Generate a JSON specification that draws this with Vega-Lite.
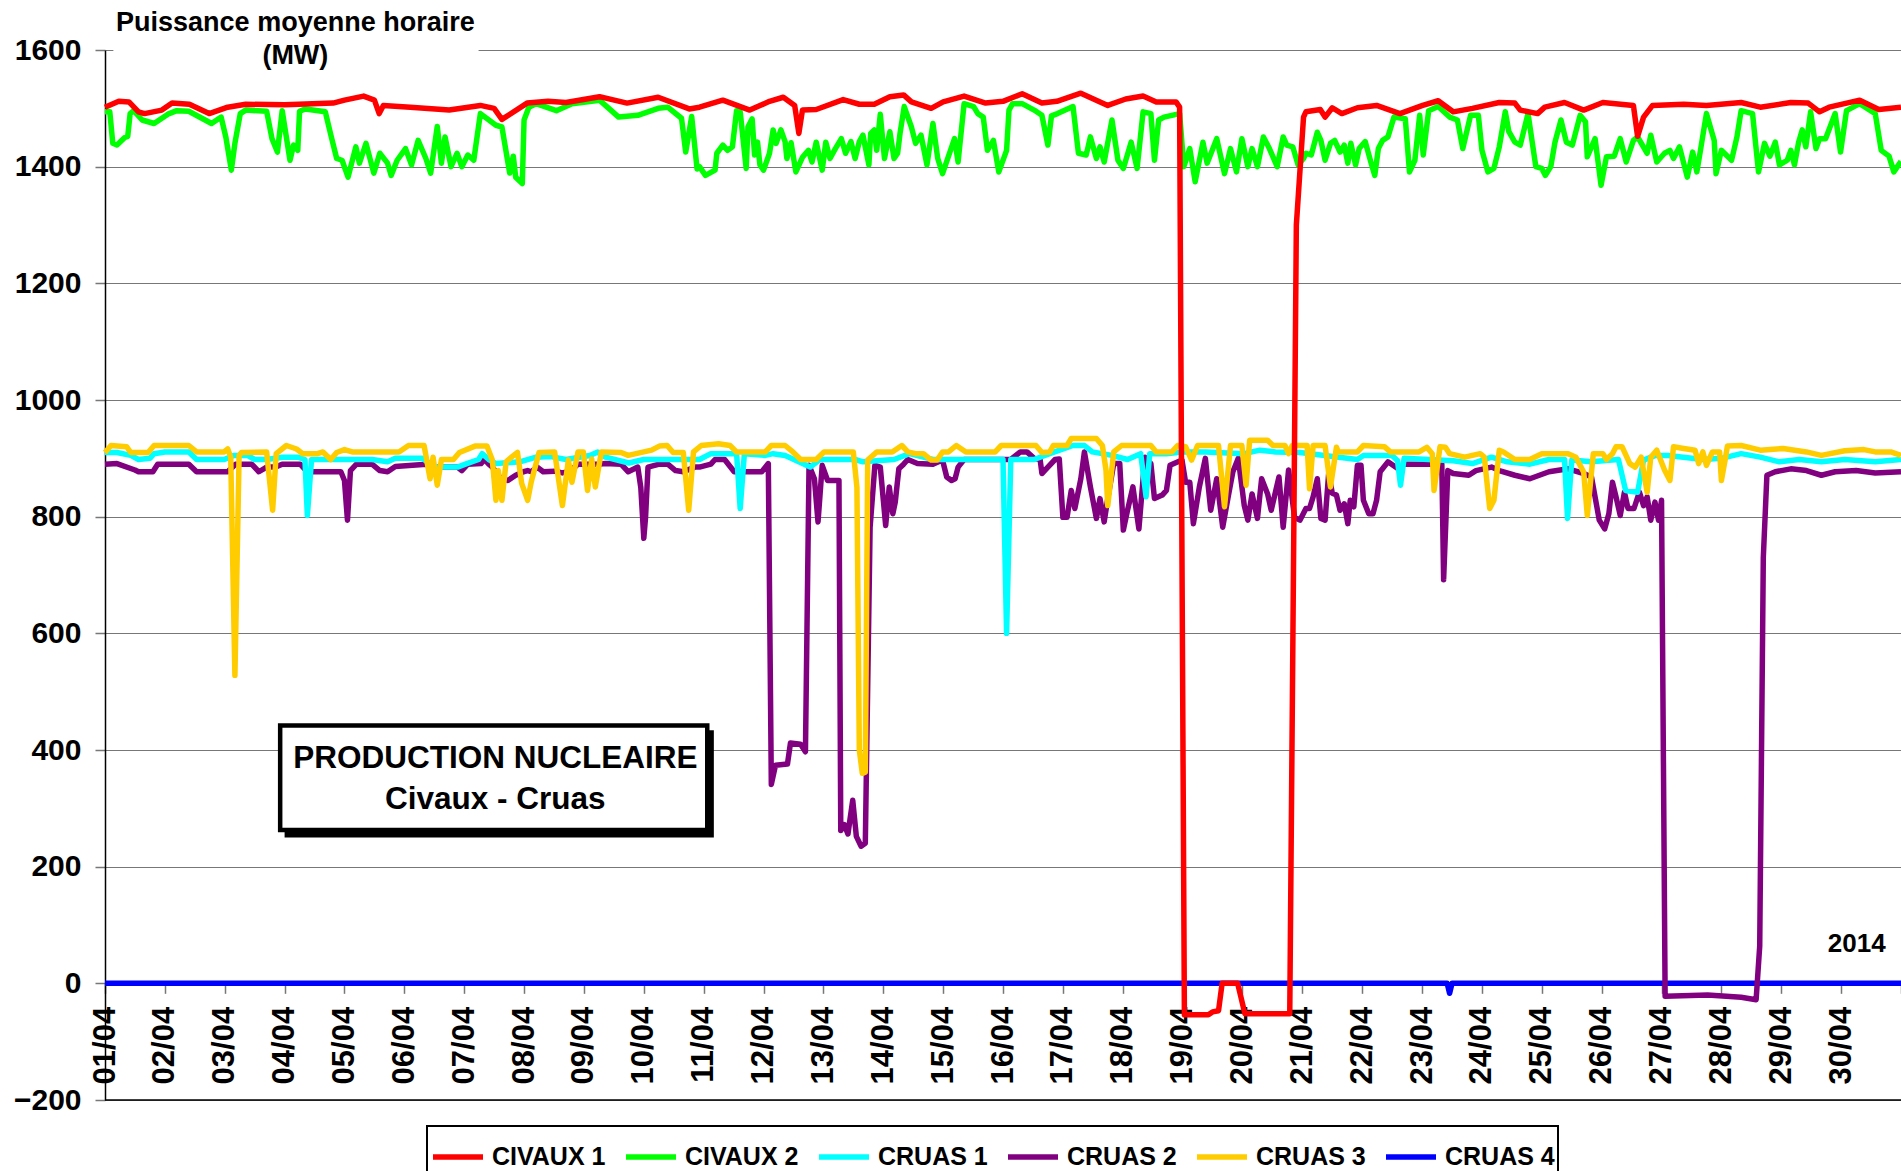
{
  "$schema": "https://vega.github.io/schema/vega-lite/v6.json",
  "width": 1796,
  "height": 1050,
  "autosize": {"type": "none"},
  "padding": {"left": 105, "top": 50, "right": 0, "bottom": 71},
  "background": "white",
  "config": {"view": {"stroke": null}, "font": "Liberation Sans"},
  "datasets": {
    "civaux1": [
      {"jour":0,"mw":1502},{"jour":0.23,"mw":1512},{"jour":0.4,"mw":1511},{"jour":0.56,"mw":1494},{"jour":0.66,"mw":1491},{"jour":0.95,"mw":1497},{"jour":1.12,"mw":1509},{"jour":1.41,"mw":1507},{"jour":1.74,"mw":1491},{"jour":2.05,"mw":1502},{"jour":2.35,"mw":1507},{"jour":3.0,"mw":1506},{"jour":3.81,"mw":1509},{"jour":4.0,"mw":1514},{"jour":4.32,"mw":1521},{"jour":4.5,"mw":1514},{"jour":4.58,"mw":1491},{"jour":4.65,"mw":1505},{"jour":5.1,"mw":1502},{"jour":5.75,"mw":1497},{"jour":6.27,"mw":1505},{"jour":6.5,"mw":1500},{"jour":6.63,"mw":1481},{"jour":7.05,"mw":1509},{"jour":7.4,"mw":1512},{"jour":7.7,"mw":1510},{"jour":8.26,"mw":1520},{"jour":8.72,"mw":1509},{"jour":9.24,"mw":1519},{"jour":9.76,"mw":1499},{"jour":9.93,"mw":1502},{"jour":10.32,"mw":1514},{"jour":10.77,"mw":1497},{"jour":11.1,"mw":1512},{"jour":11.33,"mw":1519},{"jour":11.52,"mw":1505},{"jour":11.59,"mw":1457},{"jour":11.65,"mw":1497},{"jour":11.88,"mw":1498},{"jour":12.33,"mw":1515},{"jour":12.6,"mw":1507},{"jour":12.85,"mw":1507},{"jour":13.11,"mw":1520},{"jour":13.34,"mw":1523},{"jour":13.47,"mw":1511},{"jour":13.8,"mw":1500},{"jour":14.0,"mw":1511},{"jour":14.35,"mw":1521},{"jour":14.71,"mw":1509},{"jour":15.0,"mw":1512},{"jour":15.32,"mw":1525},{"jour":15.65,"mw":1509},{"jour":15.9,"mw":1512},{"jour":16.3,"mw":1526},{"jour":16.75,"mw":1505},{"jour":17.05,"mw":1516},{"jour":17.34,"mw":1521},{"jour":17.56,"mw":1511},{"jour":17.89,"mw":1511},{"jour":17.95,"mw":1502},{"jour":18.03,"mw":-54},{"jour":18.43,"mw":-54},{"jour":18.5,"mw":-49},{"jour":18.6,"mw":-47},{"jour":18.66,"mw":0},{"jour":18.92,"mw":0},{"jour":19.04,"mw":-52},{"jour":19.79,"mw":-52},{"jour":19.9,"mw":1300},{"jour":20.02,"mw":1485},{"jour":20.06,"mw":1494},{"jour":20.3,"mw":1498},{"jour":20.38,"mw":1485},{"jour":20.5,"mw":1501},{"jour":20.66,"mw":1491},{"jour":20.92,"mw":1501},{"jour":21.24,"mw":1505},{"jour":21.63,"mw":1491},{"jour":22.01,"mw":1505},{"jour":22.27,"mw":1513},{"jour":22.52,"mw":1494},{"jour":22.84,"mw":1500},{"jour":23.29,"mw":1510},{"jour":23.55,"mw":1509},{"jour":23.64,"mw":1497},{"jour":23.93,"mw":1491},{"jour":24.05,"mw":1502},{"jour":24.38,"mw":1510},{"jour":24.7,"mw":1497},{"jour":25.02,"mw":1510},{"jour":25.53,"mw":1505},{"jour":25.6,"mw":1452},{"jour":25.7,"mw":1485},{"jour":25.85,"mw":1505},{"jour":26.37,"mw":1507},{"jour":26.75,"mw":1505},{"jour":27.33,"mw":1510},{"jour":27.65,"mw":1502},{"jour":28.16,"mw":1510},{"jour":28.45,"mw":1509},{"jour":28.64,"mw":1494},{"jour":28.8,"mw":1502},{"jour":29.31,"mw":1514},{"jour":29.63,"mw":1498},{"jour":30,"mw":1502}
    ],
    "civaux2": [
      {"jour":0,"mw":1494},{"jour":0.08,"mw":1494},{"jour":0.13,"mw":1440},{"jour":0.2,"mw":1437},{"jour":0.33,"mw":1450},{"jour":0.38,"mw":1452},{"jour":0.42,"mw":1491},{"jour":0.48,"mw":1496},{"jour":0.62,"mw":1480},{"jour":0.82,"mw":1474},{"jour":1.05,"mw":1490},{"jour":1.2,"mw":1496},{"jour":1.4,"mw":1495},{"jour":1.78,"mw":1474},{"jour":1.94,"mw":1485},{"jour":2.02,"mw":1450},{"jour":2.11,"mw":1394},{"jour":2.17,"mw":1440},{"jour":2.26,"mw":1491},{"jour":2.35,"mw":1497},{"jour":2.7,"mw":1495},{"jour":2.79,"mw":1448},{"jour":2.88,"mw":1425},{"jour":2.96,"mw":1496},{"jour":3.09,"mw":1411},{"jour":3.15,"mw":1437},{"jour":3.22,"mw":1428},{"jour":3.25,"mw":1495},{"jour":3.35,"mw":1499},{"jour":3.68,"mw":1494},{"jour":3.78,"mw":1451},{"jour":3.87,"mw":1414},{"jour":3.96,"mw":1411},{"jour":4.06,"mw":1382},{"jour":4.19,"mw":1434},{"jour":4.25,"mw":1406},{"jour":4.36,"mw":1440},{"jour":4.49,"mw":1389},{"jour":4.59,"mw":1423},{"jour":4.72,"mw":1406},{"jour":4.78,"mw":1385},{"jour":4.88,"mw":1411},{"jour":5.02,"mw":1431},{"jour":5.12,"mw":1403},{"jour":5.23,"mw":1445},{"jour":5.36,"mw":1414},{"jour":5.44,"mw":1389},{"jour":5.55,"mw":1469},{"jour":5.62,"mw":1406},{"jour":5.68,"mw":1451},{"jour":5.78,"mw":1400},{"jour":5.88,"mw":1423},{"jour":5.96,"mw":1400},{"jour":6.06,"mw":1420},{"jour":6.16,"mw":1411},{"jour":6.27,"mw":1491},{"jour":6.53,"mw":1471},{"jour":6.63,"mw":1468},{"jour":6.76,"mw":1389},{"jour":6.82,"mw":1418},{"jour":6.86,"mw":1382},{"jour":6.97,"mw":1371},{"jour":7.0,"mw":1480},{"jour":7.08,"mw":1502},{"jour":7.2,"mw":1508},{"jour":7.54,"mw":1496},{"jour":7.8,"mw":1508},{"jour":8.26,"mw":1514},{"jour":8.58,"mw":1485},{"jour":8.9,"mw":1488},{"jour":9.24,"mw":1500},{"jour":9.4,"mw":1502},{"jour":9.63,"mw":1483},{"jour":9.7,"mw":1425},{"jour":9.8,"mw":1486},{"jour":9.89,"mw":1396},{"jour":9.93,"mw":1400},{"jour":10.03,"mw":1385},{"jour":10.19,"mw":1394},{"jour":10.22,"mw":1423},{"jour":10.32,"mw":1437},{"jour":10.4,"mw":1428},{"jour":10.48,"mw":1434},{"jour":10.55,"mw":1496},{"jour":10.61,"mw":1494},{"jour":10.71,"mw":1397},{"jour":10.74,"mw":1468},{"jour":10.81,"mw":1482},{"jour":10.85,"mw":1420},{"jour":10.9,"mw":1442},{"jour":10.94,"mw":1403},{"jour":11.0,"mw":1394},{"jour":11.1,"mw":1423},{"jour":11.16,"mw":1463},{"jour":11.21,"mw":1440},{"jour":11.29,"mw":1463},{"jour":11.36,"mw":1443},{"jour":11.39,"mw":1414},{"jour":11.46,"mw":1441},{"jour":11.54,"mw":1391},{"jour":11.65,"mw":1416},{"jour":11.75,"mw":1428},{"jour":11.81,"mw":1408},{"jour":11.88,"mw":1442},{"jour":11.98,"mw":1394},{"jour":12.04,"mw":1442},{"jour":12.11,"mw":1414},{"jour":12.2,"mw":1431},{"jour":12.3,"mw":1448},{"jour":12.37,"mw":1423},{"jour":12.46,"mw":1443},{"jour":12.53,"mw":1414},{"jour":12.6,"mw":1443},{"jour":12.66,"mw":1454},{"jour":12.76,"mw":1403},{"jour":12.79,"mw":1457},{"jour":12.85,"mw":1463},{"jour":12.89,"mw":1428},{"jour":12.95,"mw":1490},{"jour":13.02,"mw":1414},{"jour":13.11,"mw":1460},{"jour":13.18,"mw":1414},{"jour":13.24,"mw":1423},{"jour":13.28,"mw":1457},{"jour":13.35,"mw":1503},{"jour":13.47,"mw":1468},{"jour":13.54,"mw":1440},{"jour":13.63,"mw":1454},{"jour":13.73,"mw":1403},{"jour":13.83,"mw":1474},{"jour":13.91,"mw":1414},{"jour":13.99,"mw":1388},{"jour":14.19,"mw":1448},{"jour":14.25,"mw":1408},{"jour":14.35,"mw":1508},{"jour":14.51,"mw":1503},{"jour":14.58,"mw":1491},{"jour":14.67,"mw":1485},{"jour":14.74,"mw":1428},{"jour":14.84,"mw":1445},{"jour":14.93,"mw":1391},{"jour":15.06,"mw":1428},{"jour":15.1,"mw":1497},{"jour":15.16,"mw":1508},{"jour":15.32,"mw":1508},{"jour":15.52,"mw":1497},{"jour":15.65,"mw":1488},{"jour":15.75,"mw":1437},{"jour":15.81,"mw":1487},{"jour":15.91,"mw":1491},{"jour":16.17,"mw":1503},{"jour":16.26,"mw":1423},{"jour":16.39,"mw":1420},{"jour":16.46,"mw":1451},{"jour":16.56,"mw":1414},{"jour":16.62,"mw":1434},{"jour":16.69,"mw":1408},{"jour":16.82,"mw":1480},{"jour":16.92,"mw":1411},{"jour":17.01,"mw":1397},{"jour":17.14,"mw":1442},{"jour":17.24,"mw":1397},{"jour":17.34,"mw":1494},{"jour":17.47,"mw":1491},{"jour":17.53,"mw":1411},{"jour":17.6,"mw":1480},{"jour":17.69,"mw":1485},{"jour":17.95,"mw":1491},{"jour":18.02,"mw":1400},{"jour":18.12,"mw":1431},{"jour":18.21,"mw":1374},{"jour":18.34,"mw":1442},{"jour":18.41,"mw":1406},{"jour":18.57,"mw":1448},{"jour":18.7,"mw":1388},{"jour":18.8,"mw":1431},{"jour":18.9,"mw":1391},{"jour":18.99,"mw":1448},{"jour":19.09,"mw":1400},{"jour":19.16,"mw":1431},{"jour":19.25,"mw":1400},{"jour":19.35,"mw":1451},{"jour":19.45,"mw":1431},{"jour":19.58,"mw":1400},{"jour":19.68,"mw":1451},{"jour":19.74,"mw":1437},{"jour":19.84,"mw":1434},{"jour":19.93,"mw":1403},{"jour":20.02,"mw":1414},{"jour":20.06,"mw":1423},{"jour":20.15,"mw":1420},{"jour":20.25,"mw":1459},{"jour":20.31,"mw":1445},{"jour":20.38,"mw":1411},{"jour":20.47,"mw":1440},{"jour":20.54,"mw":1445},{"jour":20.63,"mw":1425},{"jour":20.7,"mw":1437},{"jour":20.76,"mw":1406},{"jour":20.81,"mw":1440},{"jour":20.89,"mw":1403},{"jour":20.95,"mw":1431},{"jour":21.05,"mw":1443},{"jour":21.15,"mw":1406},{"jour":21.21,"mw":1385},{"jour":21.27,"mw":1431},{"jour":21.34,"mw":1445},{"jour":21.43,"mw":1451},{"jour":21.53,"mw":1485},{"jour":21.72,"mw":1482},{"jour":21.79,"mw":1391},{"jour":21.88,"mw":1411},{"jour":21.96,"mw":1488},{"jour":22.02,"mw":1420},{"jour":22.11,"mw":1496},{"jour":22.27,"mw":1503},{"jour":22.46,"mw":1485},{"jour":22.59,"mw":1480},{"jour":22.68,"mw":1431},{"jour":22.81,"mw":1488},{"jour":22.94,"mw":1488},{"jour":23.0,"mw":1428},{"jour":23.1,"mw":1391},{"jour":23.2,"mw":1397},{"jour":23.29,"mw":1434},{"jour":23.39,"mw":1494},{"jour":23.45,"mw":1460},{"jour":23.55,"mw":1442},{"jour":23.64,"mw":1437},{"jour":23.77,"mw":1491},{"jour":23.9,"mw":1400},{"jour":24.0,"mw":1397},{"jour":24.06,"mw":1385},{"jour":24.15,"mw":1400},{"jour":24.22,"mw":1442},{"jour":24.32,"mw":1480},{"jour":24.41,"mw":1442},{"jour":24.51,"mw":1437},{"jour":24.64,"mw":1488},{"jour":24.73,"mw":1477},{"jour":24.76,"mw":1417},{"jour":24.89,"mw":1448},{"jour":24.99,"mw":1368},{"jour":25.08,"mw":1417},{"jour":25.21,"mw":1418},{"jour":25.31,"mw":1448},{"jour":25.41,"mw":1408},{"jour":25.53,"mw":1445},{"jour":25.6,"mw":1451},{"jour":25.76,"mw":1423},{"jour":25.82,"mw":1454},{"jour":25.92,"mw":1408},{"jour":26.05,"mw":1423},{"jour":26.14,"mw":1428},{"jour":26.2,"mw":1414},{"jour":26.3,"mw":1434},{"jour":26.43,"mw":1382},{"jour":26.52,"mw":1425},{"jour":26.59,"mw":1391},{"jour":26.65,"mw":1428},{"jour":26.75,"mw":1491},{"jour":26.88,"mw":1445},{"jour":26.91,"mw":1388},{"jour":27.0,"mw":1428},{"jour":27.17,"mw":1411},{"jour":27.26,"mw":1451},{"jour":27.33,"mw":1496},{"jour":27.52,"mw":1491},{"jour":27.62,"mw":1391},{"jour":27.72,"mw":1440},{"jour":27.81,"mw":1418},{"jour":27.9,"mw":1442},{"jour":27.97,"mw":1403},{"jour":28.1,"mw":1411},{"jour":28.16,"mw":1428},{"jour":28.22,"mw":1403},{"jour":28.29,"mw":1442},{"jour":28.35,"mw":1463},{"jour":28.41,"mw":1434},{"jour":28.49,"mw":1494},{"jour":28.58,"mw":1431},{"jour":28.64,"mw":1448},{"jour":28.74,"mw":1448},{"jour":28.9,"mw":1491},{"jour":28.99,"mw":1425},{"jour":29.09,"mw":1496},{"jour":29.31,"mw":1508},{"jour":29.57,"mw":1491},{"jour":29.67,"mw":1428},{"jour":29.8,"mw":1418},{"jour":29.88,"mw":1391},{"jour":30,"mw":1409}
    ],
    "cruas1": [
      {"jour":0,"mw":910},{"jour":0.2,"mw":910},{"jour":0.43,"mw":905},{"jour":0.56,"mw":898},{"jour":0.75,"mw":900},{"jour":0.82,"mw":908},{"jour":1.0,"mw":911},{"jour":1.4,"mw":911},{"jour":1.53,"mw":898},{"jour":1.99,"mw":898},{"jour":2.15,"mw":905},{"jour":2.38,"mw":905},{"jour":2.5,"mw":898},{"jour":2.7,"mw":898},{"jour":2.96,"mw":902},{"jour":3.22,"mw":902},{"jour":3.34,"mw":898},{"jour":3.38,"mw":802},{"jour":3.45,"mw":898},{"jour":3.81,"mw":898},{"jour":4.46,"mw":898},{"jour":4.72,"mw":894},{"jour":4.85,"mw":900},{"jour":5.3,"mw":900},{"jour":5.5,"mw":885},{"jour":5.89,"mw":885},{"jour":6.02,"mw":890},{"jour":6.24,"mw":898},{"jour":6.3,"mw":908},{"jour":6.41,"mw":898},{"jour":6.53,"mw":891},{"jour":6.93,"mw":894},{"jour":7.2,"mw":902},{"jour":7.45,"mw":903},{"jour":7.7,"mw":898},{"jour":8.1,"mw":905},{"jour":8.23,"mw":911},{"jour":8.36,"mw":902},{"jour":8.75,"mw":892},{"jour":9.0,"mw":898},{"jour":9.53,"mw":898},{"jour":9.93,"mw":898},{"jour":10.12,"mw":908},{"jour":10.55,"mw":908},{"jour":10.61,"mw":814},{"jour":10.68,"mw":908},{"jour":11.03,"mw":905},{"jour":11.16,"mw":908},{"jour":11.36,"mw":905},{"jour":11.49,"mw":899},{"jour":11.59,"mw":894},{"jour":11.78,"mw":885},{"jour":11.94,"mw":898},{"jour":12.53,"mw":898},{"jour":12.66,"mw":894},{"jour":13.18,"mw":898},{"jour":13.44,"mw":908},{"jour":13.83,"mw":898},{"jour":14.35,"mw":898},{"jour":15.0,"mw":898},{"jour":15.06,"mw":600},{"jour":15.13,"mw":898},{"jour":15.52,"mw":898},{"jour":15.78,"mw":908},{"jour":16.17,"mw":922},{"jour":16.36,"mw":922},{"jour":16.49,"mw":911},{"jour":16.82,"mw":905},{"jour":17.08,"mw":898},{"jour":17.3,"mw":908},{"jour":17.39,"mw":834},{"jour":17.45,"mw":908},{"jour":17.73,"mw":908},{"jour":17.99,"mw":911},{"jour":18.38,"mw":911},{"jour":19.03,"mw":908},{"jour":19.29,"mw":914},{"jour":19.55,"mw":911},{"jour":19.96,"mw":910},{"jour":20.92,"mw":898},{"jour":21.02,"mw":905},{"jour":21.5,"mw":905},{"jour":21.59,"mw":896},{"jour":21.64,"mw":854},{"jour":21.7,"mw":900},{"jour":22.52,"mw":896},{"jour":22.84,"mw":891},{"jour":23.16,"mw":902},{"jour":23.42,"mw":894},{"jour":23.8,"mw":890},{"jour":24.12,"mw":898},{"jour":24.38,"mw":898},{"jour":24.43,"mw":797},{"jour":24.5,"mw":897},{"jour":24.83,"mw":894},{"jour":25.28,"mw":898},{"jour":25.4,"mw":845},{"jour":25.6,"mw":842},{"jour":25.7,"mw":897},{"jour":25.9,"mw":905},{"jour":26.11,"mw":905},{"jour":26.69,"mw":898},{"jour":27.0,"mw":900},{"jour":27.33,"mw":908},{"jour":27.65,"mw":902},{"jour":27.97,"mw":894},{"jour":28.3,"mw":898},{"jour":28.67,"mw":894},{"jour":29.06,"mw":898},{"jour":29.57,"mw":894},{"jour":30,"mw":898}
    ],
    "cruas2": [
      {"jour":0,"mw":890},{"jour":0.2,"mw":891},{"jour":0.5,"mw":880},{"jour":0.56,"mw":877},{"jour":0.8,"mw":877},{"jour":0.88,"mw":890},{"jour":1.4,"mw":890},{"jour":1.53,"mw":877},{"jour":2.05,"mw":877},{"jour":2.18,"mw":890},{"jour":2.45,"mw":890},{"jour":2.57,"mw":877},{"jour":2.7,"mw":885},{"jour":2.85,"mw":885},{"jour":2.96,"mw":890},{"jour":3.26,"mw":890},{"jour":3.38,"mw":877},{"jour":3.94,"mw":877},{"jour":4.0,"mw":862},{"jour":4.05,"mw":794},{"jour":4.1,"mw":879},{"jour":4.2,"mw":890},{"jour":4.46,"mw":890},{"jour":4.59,"mw":879},{"jour":4.72,"mw":877},{"jour":4.85,"mw":886},{"jour":5.37,"mw":890},{"jour":5.5,"mw":885},{"jour":5.89,"mw":885},{"jour":5.96,"mw":879},{"jour":6.06,"mw":890},{"jour":6.28,"mw":891},{"jour":6.34,"mw":898},{"jour":6.41,"mw":890},{"jour":6.47,"mw":885},{"jour":6.6,"mw":867},{"jour":6.73,"mw":862},{"jour":6.86,"mw":871},{"jour":6.99,"mw":877},{"jour":7.06,"mw":879},{"jour":7.12,"mw":877},{"jour":7.22,"mw":885},{"jour":7.32,"mw":877},{"jour":7.51,"mw":878},{"jour":7.64,"mw":875},{"jour":7.77,"mw":878},{"jour":7.9,"mw":890},{"jour":8.23,"mw":890},{"jour":8.36,"mw":891},{"jour":8.62,"mw":890},{"jour":8.74,"mw":877},{"jour":8.9,"mw":885},{"jour":8.95,"mw":850},{"jour":9.0,"mw":763},{"jour":9.03,"mw":800},{"jour":9.07,"mw":885},{"jour":9.26,"mw":890},{"jour":9.4,"mw":890},{"jour":9.53,"mw":879},{"jour":9.66,"mw":877},{"jour":9.85,"mw":885},{"jour":9.93,"mw":885},{"jour":10.12,"mw":890},{"jour":10.19,"mw":898},{"jour":10.35,"mw":898},{"jour":10.51,"mw":877},{"jour":10.97,"mw":877},{"jour":11.08,"mw":891},{"jour":11.13,"mw":341},{"jour":11.2,"mw":374},{"jour":11.4,"mw":376},{"jour":11.45,"mw":412},{"jour":11.62,"mw":410},{"jour":11.7,"mw":397},{"jour":11.76,"mw":888},{"jour":11.85,"mw":865},{"jour":11.91,"mw":791},{"jour":11.98,"mw":888},{"jour":12.07,"mw":862},{"jour":12.26,"mw":862},{"jour":12.29,"mw":262},{"jour":12.35,"mw":272},{"jour":12.41,"mw":256},{"jour":12.49,"mw":314},{"jour":12.55,"mw":252},{"jour":12.63,"mw":235},{"jour":12.7,"mw":240},{"jour":12.78,"mw":782},{"jour":12.86,"mw":888},{"jour":12.95,"mw":885},{"jour":13.04,"mw":785},{"jour":13.1,"mw":851},{"jour":13.16,"mw":805},{"jour":13.2,"mw":825},{"jour":13.26,"mw":882},{"jour":13.34,"mw":890},{"jour":13.41,"mw":898},{"jour":13.57,"mw":891},{"jour":13.83,"mw":890},{"jour":13.99,"mw":897},{"jour":14.06,"mw":868},{"jour":14.14,"mw":862},{"jour":14.2,"mw":865},{"jour":14.25,"mw":885},{"jour":14.35,"mw":898},{"jour":15.13,"mw":898},{"jour":15.29,"mw":911},{"jour":15.4,"mw":911},{"jour":15.52,"mw":900},{"jour":15.62,"mw":898},{"jour":15.65,"mw":874},{"jour":15.75,"mw":885},{"jour":15.87,"mw":898},{"jour":15.94,"mw":899},{"jour":16.0,"mw":799},{"jour":16.07,"mw":799},{"jour":16.14,"mw":845},{"jour":16.2,"mw":814},{"jour":16.3,"mw":865},{"jour":16.36,"mw":911},{"jour":16.46,"mw":851},{"jour":16.56,"mw":797},{"jour":16.62,"mw":831},{"jour":16.69,"mw":791},{"jour":16.75,"mw":831},{"jour":16.85,"mw":891},{"jour":16.95,"mw":891},{"jour":17.01,"mw":777},{"jour":17.08,"mw":811},{"jour":17.17,"mw":851},{"jour":17.27,"mw":779},{"jour":17.37,"mw":902},{"jour":17.47,"mw":891},{"jour":17.53,"mw":831},{"jour":17.66,"mw":837},{"jour":17.73,"mw":845},{"jour":17.79,"mw":888},{"jour":17.99,"mw":897},{"jour":18.05,"mw":859},{"jour":18.12,"mw":859},{"jour":18.18,"mw":788},{"jour":18.28,"mw":851},{"jour":18.38,"mw":900},{"jour":18.47,"mw":811},{"jour":18.57,"mw":865},{"jour":18.67,"mw":782},{"jour":18.77,"mw":839},{"jour":18.84,"mw":877},{"jour":18.93,"mw":900},{"jour":19.03,"mw":819},{"jour":19.09,"mw":794},{"jour":19.16,"mw":839},{"jour":19.25,"mw":797},{"jour":19.32,"mw":865},{"jour":19.42,"mw":839},{"jour":19.48,"mw":811},{"jour":19.61,"mw":868},{"jour":19.68,"mw":782},{"jour":19.77,"mw":880},{"jour":19.87,"mw":799},{"jour":19.96,"mw":794},{"jour":20.06,"mw":814},{"jour":20.12,"mw":814},{"jour":20.18,"mw":834},{"jour":20.25,"mw":865},{"jour":20.31,"mw":797},{"jour":20.38,"mw":794},{"jour":20.44,"mw":874},{"jour":20.5,"mw":840},{"jour":20.57,"mw":837},{"jour":20.63,"mw":811},{"jour":20.7,"mw":822},{"jour":20.76,"mw":788},{"jour":20.8,"mw":828},{"jour":20.86,"mw":817},{"jour":20.92,"mw":888},{"jour":20.98,"mw":888},{"jour":21.02,"mw":828},{"jour":21.11,"mw":805},{"jour":21.18,"mw":805},{"jour":21.24,"mw":828},{"jour":21.3,"mw":877},{"jour":21.43,"mw":894},{"jour":21.63,"mw":880},{"jour":21.69,"mw":890},{"jour":22.33,"mw":890},{"jour":22.36,"mw":692},{"jour":22.43,"mw":879},{"jour":22.52,"mw":874},{"jour":22.78,"mw":871},{"jour":22.9,"mw":879},{"jour":23.16,"mw":885},{"jour":23.29,"mw":879},{"jour":23.55,"mw":871},{"jour":23.8,"mw":865},{"jour":24.12,"mw":877},{"jour":24.44,"mw":882},{"jour":24.7,"mw":874},{"jour":24.83,"mw":868},{"jour":24.96,"mw":794},{"jour":25.05,"mw":779},{"jour":25.12,"mw":805},{"jour":25.18,"mw":859},{"jour":25.24,"mw":834},{"jour":25.31,"mw":802},{"jour":25.38,"mw":842},{"jour":25.44,"mw":814},{"jour":25.54,"mw":814},{"jour":25.63,"mw":842},{"jour":25.7,"mw":819},{"jour":25.76,"mw":834},{"jour":25.82,"mw":794},{"jour":25.89,"mw":825},{"jour":25.95,"mw":794},{"jour":26.0,"mw":828},{"jour":26.06,"mw":-22},{"jour":26.77,"mw":-20},{"jour":27.33,"mw":-24},{"jour":27.58,"mw":-28},{"jour":27.64,"mw":64},{"jour":27.7,"mw":730},{"jour":27.76,"mw":871},{"jour":27.9,"mw":877},{"jour":28.16,"mw":882},{"jour":28.42,"mw":879},{"jour":28.67,"mw":871},{"jour":28.9,"mw":877},{"jour":29.25,"mw":879},{"jour":29.57,"mw":875},{"jour":30,"mw":877}
    ],
    "cruas3": [
      {"jour":0,"mw":910},{"jour":0.1,"mw":922},{"jour":0.36,"mw":920},{"jour":0.43,"mw":910},{"jour":0.72,"mw":910},{"jour":0.82,"mw":922},{"jour":1.4,"mw":922},{"jour":1.53,"mw":911},{"jour":1.99,"mw":911},{"jour":2.05,"mw":916},{"jour":2.1,"mw":902},{"jour":2.17,"mw":528},{"jour":2.24,"mw":905},{"jour":2.28,"mw":910},{"jour":2.7,"mw":911},{"jour":2.8,"mw":811},{"jour":2.86,"mw":908},{"jour":3.03,"mw":922},{"jour":3.2,"mw":916},{"jour":3.3,"mw":908},{"jour":3.55,"mw":908},{"jour":3.64,"mw":911},{"jour":3.77,"mw":898},{"jour":3.87,"mw":910},{"jour":4.0,"mw":915},{"jour":4.13,"mw":911},{"jour":4.91,"mw":911},{"jour":5.07,"mw":922},{"jour":5.33,"mw":922},{"jour":5.43,"mw":865},{"jour":5.48,"mw":902},{"jour":5.55,"mw":854},{"jour":5.62,"mw":898},{"jour":5.82,"mw":898},{"jour":5.92,"mw":910},{"jour":6.18,"mw":921},{"jour":6.38,"mw":921},{"jour":6.47,"mw":897},{"jour":6.53,"mw":828},{"jour":6.57,"mw":879},{"jour":6.63,"mw":828},{"jour":6.7,"mw":894},{"jour":6.8,"mw":903},{"jour":6.89,"mw":910},{"jour":6.96,"mw":857},{"jour":7.06,"mw":828},{"jour":7.12,"mw":860},{"jour":7.25,"mw":910},{"jour":7.51,"mw":911},{"jour":7.64,"mw":819},{"jour":7.74,"mw":897},{"jour":7.8,"mw":859},{"jour":7.9,"mw":911},{"jour":7.99,"mw":911},{"jour":8.06,"mw":845},{"jour":8.13,"mw":899},{"jour":8.19,"mw":851},{"jour":8.29,"mw":911},{"jour":8.62,"mw":910},{"jour":8.74,"mw":905},{"jour":9.13,"mw":914},{"jour":9.26,"mw":921},{"jour":9.39,"mw":922},{"jour":9.49,"mw":910},{"jour":9.66,"mw":910},{"jour":9.75,"mw":811},{"jour":9.83,"mw":911},{"jour":9.96,"mw":922},{"jour":10.25,"mw":925},{"jour":10.44,"mw":922},{"jour":10.55,"mw":911},{"jour":11.03,"mw":911},{"jour":11.13,"mw":922},{"jour":11.36,"mw":922},{"jour":11.49,"mw":911},{"jour":11.62,"mw":898},{"jour":11.88,"mw":898},{"jour":12.01,"mw":911},{"jour":12.5,"mw":911},{"jour":12.56,"mw":850},{"jour":12.6,"mw":400},{"jour":12.65,"mw":360},{"jour":12.7,"mw":362},{"jour":12.74,"mw":897},{"jour":12.89,"mw":911},{"jour":13.15,"mw":911},{"jour":13.31,"mw":922},{"jour":13.41,"mw":911},{"jour":13.54,"mw":908},{"jour":13.67,"mw":908},{"jour":13.8,"mw":897},{"jour":13.9,"mw":897},{"jour":13.99,"mw":911},{"jour":14.09,"mw":911},{"jour":14.22,"mw":922},{"jour":14.38,"mw":911},{"jour":14.87,"mw":911},{"jour":14.97,"mw":922},{"jour":15.55,"mw":922},{"jour":15.65,"mw":910},{"jour":15.78,"mw":911},{"jour":15.84,"mw":922},{"jour":16.07,"mw":922},{"jour":16.14,"mw":934},{"jour":16.56,"mw":934},{"jour":16.66,"mw":922},{"jour":16.72,"mw":880},{"jour":16.75,"mw":819},{"jour":16.85,"mw":911},{"jour":16.98,"mw":922},{"jour":17.47,"mw":922},{"jour":17.56,"mw":911},{"jour":17.82,"mw":911},{"jour":17.92,"mw":922},{"jour":18.05,"mw":920},{"jour":18.15,"mw":897},{"jour":18.25,"mw":922},{"jour":18.6,"mw":922},{"jour":18.7,"mw":817},{"jour":18.8,"mw":922},{"jour":18.99,"mw":922},{"jour":19.06,"mw":854},{"jour":19.12,"mw":931},{"jour":19.42,"mw":931},{"jour":19.51,"mw":922},{"jour":19.71,"mw":922},{"jour":19.77,"mw":908},{"jour":19.83,"mw":922},{"jour":20.02,"mw":922},{"jour":20.08,"mw":922},{"jour":20.12,"mw":848},{"jour":20.18,"mw":922},{"jour":20.38,"mw":922},{"jour":20.47,"mw":851},{"jour":20.57,"mw":919},{"jour":20.6,"mw":911},{"jour":20.92,"mw":911},{"jour":21.02,"mw":922},{"jour":21.37,"mw":920},{"jour":21.47,"mw":911},{"jour":21.95,"mw":911},{"jour":22.08,"mw":919},{"jour":22.17,"mw":908},{"jour":22.2,"mw":845},{"jour":22.3,"mw":920},{"jour":22.39,"mw":919},{"jour":22.46,"mw":908},{"jour":22.71,"mw":902},{"jour":22.97,"mw":908},{"jour":23.04,"mw":902},{"jour":23.13,"mw":814},{"jour":23.2,"mw":828},{"jour":23.29,"mw":914},{"jour":23.36,"mw":911},{"jour":23.55,"mw":898},{"jour":23.8,"mw":898},{"jour":24.0,"mw":908},{"jour":24.44,"mw":908},{"jour":24.57,"mw":902},{"jour":24.7,"mw":876},{"jour":24.76,"mw":802},{"jour":24.86,"mw":908},{"jour":25.02,"mw":908},{"jour":25.08,"mw":898},{"jour":25.18,"mw":908},{"jour":25.24,"mw":920},{"jour":25.34,"mw":920},{"jour":25.47,"mw":891},{"jour":25.56,"mw":885},{"jour":25.66,"mw":902},{"jour":25.76,"mw":842},{"jour":25.82,"mw":902},{"jour":25.92,"mw":914},{"jour":26.05,"mw":880},{"jour":26.14,"mw":862},{"jour":26.2,"mw":920},{"jour":26.37,"mw":917},{"jour":26.56,"mw":914},{"jour":26.62,"mw":891},{"jour":26.69,"mw":911},{"jour":26.75,"mw":888},{"jour":26.85,"mw":911},{"jour":26.97,"mw":911},{"jour":27.0,"mw":862},{"jour":27.07,"mw":902},{"jour":27.1,"mw":921},{"jour":27.33,"mw":922},{"jour":27.65,"mw":914},{"jour":28.03,"mw":917},{"jour":28.42,"mw":911},{"jour":28.67,"mw":905},{"jour":29.06,"mw":913},{"jour":29.38,"mw":915},{"jour":29.57,"mw":911},{"jour":29.83,"mw":911},{"jour":30,"mw":905}
    ],
    "cruas4": [
      {"jour":0,"mw":0},{"jour":22.42,"mw":0},{"jour":22.46,"mw":-17},{"jour":22.5,"mw":0},{"jour":30,"mw":0}
    ],
    "vide": [{}]
  },
  "layer": [
    {
      "encoding": {
        "x": {
          "field": "jour", "type": "quantitative",
          "scale": {"domain": [0, 30], "nice": false, "zero": false},
          "axis": {
            "title": null, "offset": -116.67, "domain": false, "grid": false,
            "values": [0,1,2,3,4,5,6,7,8,9,10,11,12,13,14,15,16,17,18,19,20,21,22,23,24,25,26,27,28,29,30],
            "labelExpr": "datum.value >= 30 ? '' : ((datum.value + 1 < 10 ? '0' : '') + (datum.value + 1) + '/04')",
            "tickSize": 10, "tickColor": "#777777", "tickWidth": 1.5,
            "labelAngle": 270, "labelFont": "Liberation Sans", "labelFontSize": 31, "labelFontWeight": "bold",
            "labelColor": "black", "labelPadding": 13, "labelOverlap": false, "labelFlush": false
          }
        },
        "y": {
          "field": "mw", "type": "quantitative",
          "scale": {"domain": [-200, 1600], "nice": false, "zero": false},
          "axis": {
            "title": null, "values": [-200,0,200,400,600,800,1000,1200,1400,1600], "format": "d",
            "grid": true, "gridColor": "#777777", "gridWidth": 1,
            "domain": true, "domainColor": "black", "domainWidth": 1.5,
            "tickSize": 10, "tickColor": "#777777", "tickWidth": 1.5,
            "labelFont": "Liberation Sans", "labelFontSize": 30, "labelFontWeight": "bold",
            "labelColor": "black", "labelPadding": 14
          }
        }
      },
      "layer": [
        {
          "data": {"name": "cruas4"},
          "mark": {"type": "line", "strokeWidth": 5.5, "strokeJoin": "round"},
          "encoding": {
            "color": {
              "datum": "CRUAS 4", "type": "nominal",
              "scale": {
                "domain": ["CIVAUX 1", "CIVAUX 2", "CRUAS 1", "CRUAS 2", "CRUAS 3", "CRUAS 4"],
                "range": ["#FF0000", "#00FF00", "#00FFFF", "#800080", "#FFCC00", "#0000FF"]
              },
              "legend": {
                "title": null, "orient": "none", "legendX": 322, "legendY": 1076,
                "direction": "horizontal", "symbolType": "stroke", "symbolSize": 2500, "symbolStrokeWidth": 5.5,
                "labelFont": "Liberation Sans", "labelFontSize": 25, "labelFontWeight": "bold", "labelColor": "black",
                "labelOffset": 6, "columnPadding": 9, "padding": 3, "strokeColor": "black", "fillColor": "white",
                "labelLimit": 0,
                "encode": {"legend": {"update": {"strokeWidth": {"value": 2}}}}
              }
            }
          }
        },
        {
          "data": {"name": "civaux2"},
          "mark": {"type": "line", "strokeWidth": 5.5, "strokeJoin": "round"},
          "encoding": {"color": {"datum": "CIVAUX 2", "type": "nominal"}}
        },
        {
          "data": {"name": "cruas2"},
          "mark": {"type": "line", "strokeWidth": 5.5, "strokeJoin": "round"},
          "encoding": {"color": {"datum": "CRUAS 2", "type": "nominal"}}
        },
        {
          "data": {"name": "cruas1"},
          "mark": {"type": "line", "strokeWidth": 5.5, "strokeJoin": "round"},
          "encoding": {"color": {"datum": "CRUAS 1", "type": "nominal"}}
        },
        {
          "data": {"name": "cruas3"},
          "mark": {"type": "line", "strokeWidth": 5.5, "strokeJoin": "round"},
          "encoding": {"color": {"datum": "CRUAS 3", "type": "nominal"}}
        },
        {
          "data": {"name": "civaux1"},
          "mark": {"type": "line", "strokeWidth": 5.5, "strokeJoin": "round"},
          "encoding": {"color": {"datum": "CIVAUX 1", "type": "nominal"}}
        }
      ]
    },
    {
      "data": {"name": "vide"},
      "mark": {"type": "rect", "fill": "white", "clip": false},
      "encoding": {"x": {"datum": 0.14}, "x2": {"datum": 6.24}, "y": {"datum": 1575}, "y2": {"datum": 1700}}
    },
    {
      "data": {"name": "vide"},
      "mark": {"type": "rule", "color": "black", "strokeWidth": 1.5},
      "encoding": {"y": {"datum": -200}}
    },
    {
      "data": {"name": "vide"},
      "mark": {"type": "rect", "fill": "black"},
      "encoding": {"x": {"datum": 3.0}, "x2": {"datum": 10.17}, "y": {"datum": 434}, "y2": {"datum": 250}}
    },
    {
      "data": {"name": "vide"},
      "mark": {"type": "rect", "fill": "white", "stroke": "black", "strokeWidth": 4.5},
      "encoding": {"x": {"datum": 2.926}, "x2": {"datum": 10.06}, "y": {"datum": 442}, "y2": {"datum": 263}}
    },
    {
      "data": {"name": "vide"},
      "mark": {"type": "text", "font": "Liberation Sans", "fontSize": 31.5, "fontWeight": "bold", "color": "black", "align": "center", "baseline": "middle"},
      "encoding": {"x": {"datum": 6.52}, "y": {"datum": 385}, "text": {"value": "PRODUCTION NUCLEAIRE"}}
    },
    {
      "data": {"name": "vide"},
      "mark": {"type": "text", "font": "Liberation Sans", "fontSize": 31.5, "fontWeight": "bold", "color": "black", "align": "center", "baseline": "middle"},
      "encoding": {"x": {"datum": 6.52}, "y": {"datum": 315}, "text": {"value": "Civaux - Cruas"}}
    },
    {
      "data": {"name": "vide"},
      "mark": {"type": "text", "font": "Liberation Sans", "fontSize": 27, "fontWeight": "bold", "color": "black", "align": "center", "baseline": "middle", "clip": false},
      "encoding": {"x": {"datum": 3.18}, "y": {"datum": 1647}, "text": {"value": "Puissance moyenne horaire"}}
    },
    {
      "data": {"name": "vide"},
      "mark": {"type": "text", "font": "Liberation Sans", "fontSize": 27, "fontWeight": "bold", "color": "black", "align": "center", "baseline": "middle", "clip": false},
      "encoding": {"x": {"datum": 3.18}, "y": {"datum": 1589}, "text": {"value": "(MW)"}}
    },
    {
      "data": {"name": "vide"},
      "mark": {"type": "text", "font": "Liberation Sans", "fontSize": 26, "fontWeight": "bold", "color": "black", "align": "center", "baseline": "middle"},
      "encoding": {"x": {"datum": 29.26}, "y": {"datum": 67}, "text": {"value": "2014"}}
    }
  ]
}
